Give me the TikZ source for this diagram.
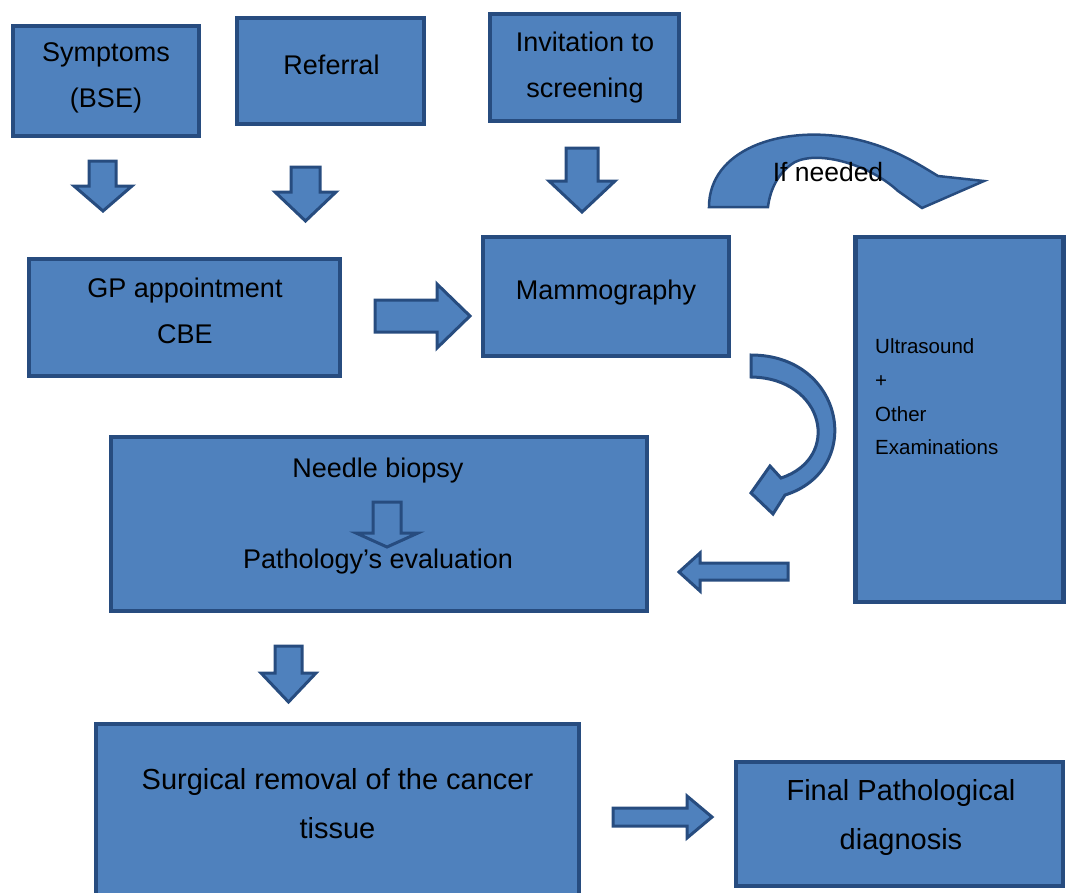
\documentclass[tikz,border=0pt]{standalone}
\usepackage{fontspec}
\setmainfont{Liberation Sans}
\definecolor{boxfill}{HTML}{4F81BD}
\definecolor{boxline}{HTML}{274C7F}
\begin{document}
\begin{tikzpicture}[x=1pt,y=-1pt,
  box/.style={draw=boxline, fill=boxfill, line width=4.5pt, inner sep=0pt},
  barrow/.style={draw=boxline, fill=boxfill, line width=3pt, line join=miter},
  hollow/.style={draw=boxline, fill=boxfill, line width=3pt, line join=miter},
  txt/.style={text=black, align=center, inner sep=0pt, font=\fontsize{27}{46}\selectfont},
  bigtxt/.style={text=black, align=center, inner sep=0pt, font=\fontsize{29}{49}\selectfont}]
\useasboundingbox (0,0) rectangle (1068,892);
% boxes
\node[box, minimum width=186, minimum height=110] (sym) at (106,81) {};
\node[box, minimum width=187, minimum height=106] (ref) at (330.5,71) {};
\node[box, minimum width=189, minimum height=107] (inv) at (584.5,67.5) {};
\node[box, minimum width=311, minimum height=117] (gp) at (184.5,317.5) {};
\node[box, minimum width=246, minimum height=119] (mam) at (606,296.5) {};
\node[box, minimum width=208, minimum height=365] (ult) at (959.5,419.5) {};
\node[box, minimum width=536, minimum height=174] (bio) at (379,524) {};
\node[box, minimum width=483, minimum height=172] (sur) at (337.5,810) {};
\node[box, minimum width=327, minimum height=124] (fin) at (899.5,824) {};
% texts
\node[txt] (tsym) at (106,78) {Symptoms\\(BSE)};
\node[txt] (tref) at (331.5,64.5) {Referral};
\node[txt] (tinv) at (585,68) {Invitation to\\screening};
\node[txt] (tgp) at (185,311) {GP appointment\\CBE};
\node[txt] (tmam) at (606,293) {Mammography};
\node[txt, anchor=west, align=left, font=\fontsize{20.5}{33.7}\selectfont] (tult) at (875,397) {Ultrasound\\+\\Other\\Examinations};
\node[txt] (tbio1) at (378,471) {Needle biopsy};
\node[txt] (tbio2) at (378,562) {Pathology’s evaluation};
\node[bigtxt] (tsur) at (337.5,804) {Surgical removal of the cancer\\tissue};
\node[bigtxt] (tfin) at (901,817) {Final Pathological\\diagnosis};
% down block arrows
\draw[barrow] (89,161) -- (116,161) -- (116,186) -- (132,186) -- (103,211) -- (74,186) -- (89,186) -- cycle;
\draw[barrow] (291,167) -- (320,167) -- (320,192) -- (336,192) -- (305.5,221) -- (275,192) -- (291,192) -- cycle;
\draw[barrow] (566,148) -- (598,148) -- (598,181) -- (615,181) -- (582,212) -- (549,181) -- (566,181) -- cycle;
\draw[barrow] (275,646) -- (302,646) -- (302,673) -- (316,673) -- (288.5,702) -- (261,673) -- (275,673) -- cycle;
% right block arrows
\draw[barrow] (375,300) -- (437,300) -- (437,284) -- (470,316) -- (437,348) -- (437,332) -- (375,332) -- cycle;
\draw[barrow] (613,808) -- (687,808) -- (687,796) -- (712,817) -- (687,838) -- (687,826) -- (613,826) -- cycle;
% left block arrow
\draw[barrow] (788,563) -- (700,563) -- (700,553) -- (679,572) -- (700,591) -- (700,580) -- (788,580) -- cycle;
% hollow arrow inside biopsy
\draw[hollow] (373,502) -- (401,502) -- (401,533) -- (418,533) -- (387,547) -- (356,533) -- (373,533) -- cycle;
% curved arrow "If needed"
\draw[barrow, line width=2.5pt] (709,207) .. controls (709,150) and (780,125) .. (850,138)
  .. controls (890,146) and (915,162) .. (938,176) -- (984,181) -- (922,208) -- (898,191)
  .. controls (870,165) and (820,150) .. (795,162)
  .. controls (778,172) and (770,190) .. (768,207) -- cycle;
\node[txt, font=\fontsize{26.5}{30}\selectfont] (tif) at (828,172) {If needed};
% curved arrow right of mammography
\draw[barrow] (751,355) .. controls (845,355) and (865,470) .. (785,495)
  -- (773,514) -- (751,493) -- (770,466) -- (781,478)
  .. controls (842,458) and (825,378) .. (751,377) -- cycle;
\end{tikzpicture}
\end{document}
